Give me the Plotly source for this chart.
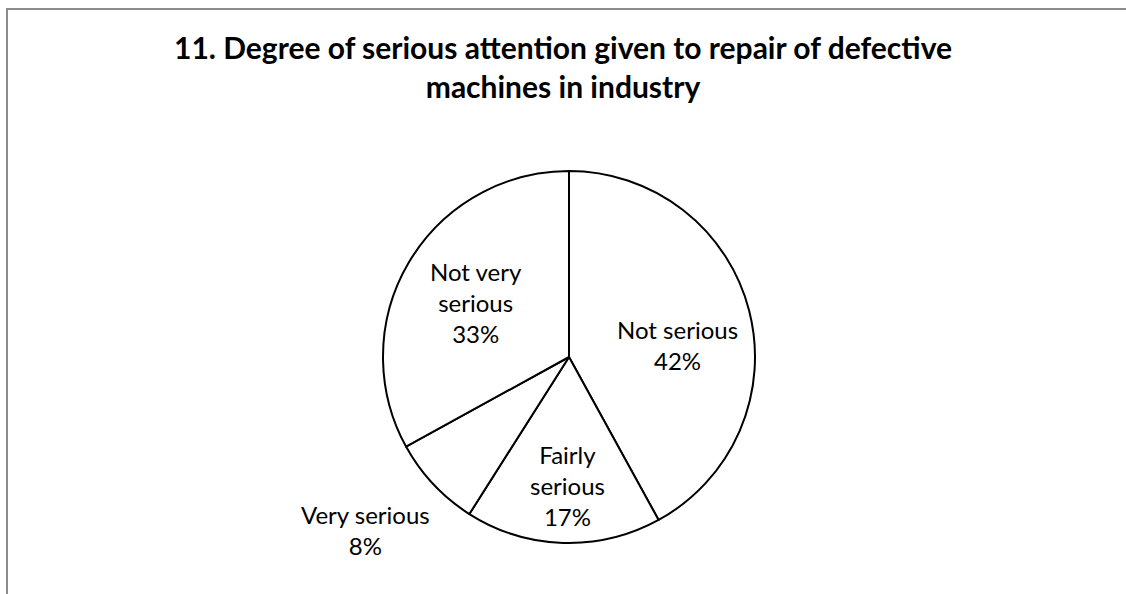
import math
import plotly.graph_objects as go

categories = ["Not serious", "Fairly serious", "Very serious", "Not very serious"]
display_labels = ["Not serious", "Fairly<br>serious", "Very serious", "Not very<br>serious"]
values = [42, 17, 8, 33]

W, H = 1126, 594
cx, cy, r = 569, 357, 186
# label placement (style): radial fraction of radius and pixel nudges
label_radius = [0.58, 0.69, 1.44, 0.58]
label_xshift = [4, 3, -8, 0]
label_yshift = [-15, 0, 10, 0]

fig = go.Figure(go.Pie(
    labels=categories,
    values=values,
    textinfo="none",
    sort=False,
    direction="clockwise",
    rotation=0,
    marker=dict(colors=["white"] * 4, line=dict(color="black", width=2)),
    showlegend=False,
    hoverinfo="label+percent",
    domain=dict(x=[(cx - r) / W, (cx + r) / W], y=[(H - cy - r) / H, (H - cy + r) / H]),
))

total = sum(values)
annotations = []
cum = 0
for i, v in enumerate(values):
    mid = (cum + v / 2) / total * 2 * math.pi
    cum += v
    px = cx + label_radius[i] * r * math.sin(mid)
    py = cy - label_radius[i] * r * math.cos(mid)
    pct = round(v / total * 100)
    annotations.append(dict(
        x=px / W, y=1 - py / H, xref="paper", yref="paper",
        text=f"{display_labels[i]}<br>{pct}%",
        showarrow=False, xanchor="center", yanchor="middle", align="center",
        xshift=label_xshift[i], yshift=label_yshift[i],
        font=dict(family="Lato", size=24, color="black"),
    ))

fig.update_layout(
    width=W, height=H,
    margin=dict(l=0, r=0, t=0, b=0),
    paper_bgcolor="white",
    plot_bgcolor="white",
    title=dict(
        text="<b>11. Degree of serious attention given to repair of defective<br>machines in industry</b>",
        font=dict(family="Lato", size=30, color="black"),
        x=0.5, xanchor="center", xref="paper",
        y=1 - 59 / H, yanchor="top", yref="container",
    ),
    annotations=annotations,
    shapes=[dict(type="rect", xref="paper", yref="paper",
                 x0=7 / W, x1=1.05, y0=-0.05, y1=1 - 9 / H,
                 line=dict(color="#8c8c8c", width=2))],
)

fig.write_html("out.html")
